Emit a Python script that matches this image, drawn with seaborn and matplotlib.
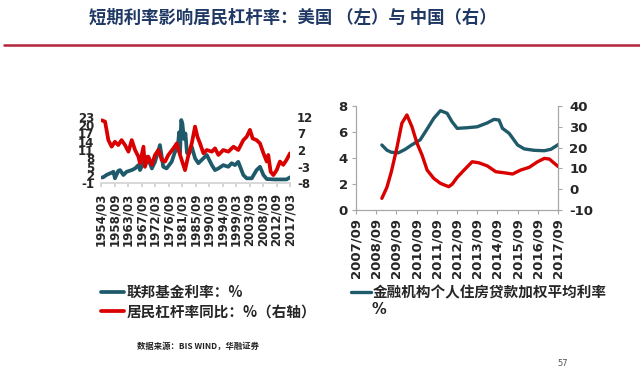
import numpy as np
import pandas as pd
import matplotlib
matplotlib.use('Agg')
import matplotlib.pyplot as plt
from matplotlib.lines import Line2D
import seaborn as sns

###data: US (left chart)
us_fed_year = [1954.5, 1955.0, 1956.2, 1957.25, 1957.9, 1958.4, 1958.9, 1960.0, 1960.6, 1961.7,
               1962.8, 1964.5, 1965.6, 1966.7, 1967.25, 1968.9, 1969.7, 1971.2, 1972.25, 1973.9,
               1975.0, 1976.1, 1977.8, 1978.8, 1979.5, 1980.0, 1980.3, 1980.6, 1981.0, 1981.4,
               1981.9, 1982.4, 1982.9, 1983.5, 1984.5, 1985.6, 1986.7, 1988.4, 1989.5, 1991.2,
               1992.25, 1993.4, 1995.0, 1996.7, 1997.8, 1998.9, 2000.0, 2001.7, 2002.8, 2004.5,
               2006.1, 2007.25, 2008.4, 2009.5, 2012.0, 2014.0, 2016.1, 2017.25]
us_fed_rate = [1.0, 1.1, 2.0, 2.5, 2.8, 3.1, 0.7, 3.4, 3.7, 1.9,
               3.1, 3.7, 4.3, 5.5, 3.7, 7.4, 8.6, 4.3, 6.7, 12.8,
               4.9, 4.3, 6.7, 10.0, 11.5, 14.0, 17.5, 10.0, 21.9, 20.5,
               15.0, 17.0, 10.0, 9.5, 12.2, 8.0, 6.2, 8.0, 9.2, 5.5,
               3.7, 4.3, 5.5, 4.9, 6.2, 5.5, 6.7, 1.9, 0.7, 0.7,
               3.7, 4.9, 1.9, 0.45, 0.3, 0.3, 0.3, 1.07]

us_lev_year = [1954.5, 1955.6, 1956.1, 1956.7, 1957.8, 1958.9, 1960.0, 1961.1, 1962.25, 1963.4,
               1964.5, 1965.6, 1966.7, 1967.25, 1968.4, 1968.9, 1970.0, 1971.2, 1972.25, 1973.4,
               1974.5, 1975.6, 1976.7, 1978.4, 1979.5, 1980.6, 1982.25, 1983.4, 1984.5, 1985.6,
               1986.4, 1987.25, 1988.4, 1989.5, 1991.2, 1992.25, 1993.4, 1995.0, 1996.7, 1998.4,
               2000.0, 2001.7, 2002.8, 2003.9, 2004.8, 2006.1, 2007.25, 2008.4, 2009.5, 2010.0,
               2010.8, 2011.7, 2012.8, 2013.9, 2015.0, 2016.1, 2017.25]
us_lev_yoy = [11.0, 10.6, 8.1, 5.0, 3.0, 4.5, 3.5, 5.0, 3.5, 1.5,
              5.0, 2.0, 0.0, -2.0, 3.0, -3.1, 0.0, -2.5, 0.5, 2.0,
              -1.0, -1.5, 0.5, 2.5, 4.0, 0.5, -4.1, 0.5, 4.0, 9.1,
              6.0, 4.0, 1.0, 2.0, 1.5, 2.5, 0.5, 2.0, 1.5, 3.0,
              2.0, 5.0, 6.0, 8.1, 5.5, 5.0, 4.0, 1.0, -1.5, 0.5,
              -4.6, -5.6, -4.1, -1.5, -2.5, -1.0, 1.0]

###data: China (right chart)
cn_rate_year = [2009.03, 2009.28, 2009.5, 2009.85, 2010.19, 2010.5, 2010.93, 2011.3, 2011.6, 2011.93,
                2012.26, 2012.5, 2012.76, 2013.26, 2013.75, 2014.25, 2014.58, 2014.83, 2015.0, 2015.33,
                2015.75, 2016.08, 2016.57, 2017.07, 2017.4, 2017.78]
cn_mortgage_rate = [5.0, 4.6, 4.44, 4.4, 4.67, 5.0, 5.4, 6.3, 7.05, 7.64,
                    7.44, 6.8, 6.28, 6.33, 6.4, 6.7, 6.97, 6.92, 6.28, 5.9,
                    5.0, 4.7, 4.59, 4.56, 4.67, 5.05]

cn_lev_year = [2009.03, 2009.28, 2009.5, 2009.77, 2010.02, 2010.27, 2010.52, 2010.77, 2011.02, 2011.27,
               2011.6, 2011.93, 2012.34, 2012.51, 2012.76, 2013.1, 2013.5, 2013.83, 2014.25, 2014.67,
               2015.08, 2015.5, 2015.9, 2016.32, 2016.74, 2017.07, 2017.32, 2017.77]
cn_lev_yoy = [-4.4, 0.9, 8.4, 19.7, 31.7, 35.7, 30.0, 22.1, 16.4, 9.2,
              5.2, 2.8, 1.2, 2.4, 5.7, 9.2, 13.2, 12.7, 11.2, 8.4,
              7.9, 7.3, 9.2, 10.5, 13.2, 14.8, 14.5, 10.8]

us_xticks = [1954.25 + 4.5 * k for k in range(15)]
us_xlabels = ['1954/03', '1958/09', '1963/03', '1967/09', '1972/03', '1976/09', '1981/03', '1985/09',
              '1990/03', '1994/09', '1999/03', '2003/09', '2008/03', '2012/09', '2017/03']
cn_xticks = [2007.75 + k for k in range(11)]
cn_xlabels = ['%d/09' % y for y in range(2007, 2018)]

title = '短期利率影响居民杠杆率：美国 （左）与 中国（右）'
us_labels = ['联邦基金利率：%', '居民杠杆率同比：%（右轴）']
cn_label = '金融机构个人住房贷款加权平均利率'
source = '数据来源：BIS WIND，华融证券'

teal = '#1F5A6A'
red = '#DA0000'
cjk = ['Noto Sans CJK SC', 'DejaVu Sans']

sns.set_theme(style='white')
plt.rcParams['font.family'] = ['DejaVu Sans', 'Noto Sans CJK SC']
plt.rcParams['axes.unicode_minus'] = False

fig = plt.figure(figsize=(6.4, 3.75), dpi=100)

###left chart
W, H = 640., 375.
ax1 = fig.add_axes([101 / W, 1 - 183 / H, (290 - 101) / W, (183 - 117) / H])
ax2 = ax1.twinx()
sns.lineplot(x=us_fed_year, y=us_fed_rate, ax=ax1, color=teal, lw=2.7, label=us_labels[0], legend=False)
sns.lineplot(x=us_lev_year, y=us_lev_yoy, ax=ax2, color=red, lw=2.7, label=us_labels[1], legend=False)
ax1.set_xlim(1954.25, 2017.25)
ax1.set_ylim(-1, 23)
ax2.set_ylim(-8, 12)
ax1.set_yticks(np.arange(-1, 24, 3))
ax2.set_yticks(np.arange(-8, 13, 5))
ax1.set_xticks(us_xticks)
ax1.set_xticklabels(us_xlabels, rotation=90)
for a in (ax1, ax2):
    for s in ('top', 'left', 'right'):
        a.spines[s].set_visible(False)
    a.spines['bottom'].set_color('#D9D9D9')
    a.tick_params(axis='y', length=0, pad=5, labelsize=8.5)
    for t in a.get_yticklabels():
        t.set_fontweight('bold')
ax1.tick_params(axis='x', length=3, color='#D0D0D0', bottom=True, pad=4, labelsize=8.5)
for t in ax1.get_xticklabels():
    t.set_fontweight('bold')
ax1.set_xlabel('')

###right chart
ax3 = fig.add_axes([356 / W, 1 - 210 / H, (558 - 356) / W, (210 - 106) / H])
ax4 = ax3.twinx()
sns.lineplot(x=cn_rate_year, y=cn_mortgage_rate, ax=ax3, color=teal, lw=2.4, label=cn_label, legend=False)
sns.lineplot(x=cn_lev_year, y=cn_lev_yoy, ax=ax4, color=red, lw=2.4, legend=False)
ax3.set_xlim(2007.75, 2017.75)
ax3.set_ylim(0, 8)
ax4.set_ylim(-10, 40)
ax3.set_yticks(np.arange(0, 9, 2))
ax4.set_yticks(np.arange(-10, 41, 10))
ax3.set_xticks(cn_xticks)
ax3.set_xticklabels(cn_xlabels, rotation=90)
for a in (ax3, ax4):
    a.spines['top'].set_visible(False)
    for s in ('left', 'right', 'bottom'):
        a.spines[s].set_color('#A6A6A6')
        a.spines[s].set_linewidth(0.8)
ax3.tick_params(axis='both', direction='out', length=3, color='#A6A6A6', width=0.8,
                bottom=True, left=True, labelsize=9.5, pad=3)
ax4.tick_params(axis='y', direction='out', length=3, color='#A6A6A6', width=0.8,
                right=True, labelsize=9.5, pad=5)
for t in ax3.get_xticklabels() + ax3.get_yticklabels() + ax4.get_yticklabels():
    t.set_fontweight('bold')

###legends
leg_font = dict(family=cjk, size=10.5, weight='bold')
fig.legend([ax1.lines[0], ax2.lines[0]], us_labels, loc='upper left',
           bbox_to_anchor=(101 / W, 1 - 284 / H), bbox_transform=fig.transFigure,
           frameon=False, prop=leg_font, borderpad=0, borderaxespad=0,
           handlelength=1.6, handletextpad=0.15, labelspacing=0.22)
fig.legend([ax3.lines[0]], [cn_label], loc='upper left',
           bbox_to_anchor=(351 / W, 1 - 284 / H), bbox_transform=fig.transFigure,
           frameon=False, prop=leg_font, borderpad=0, borderaxespad=0,
           handlelength=1.4, handletextpad=0.1)
fig.text(372 / W, 1 - 310 / H, '%', ha='left', va='center', fontsize=10.5, fontweight='bold')

###title, rule, footer
fig.text(89 / W, 1 - 18 / H, title, ha='left', va='center', fontsize=12.5,
         fontweight='bold', color='#1F3864', family=cjk)
fig.add_artist(Line2D([4 / W, 1.0], [1 - 45 / H, 1 - 45 / H], color='#B2243A', lw=1.8))
fig.text(137 / W, 1 - 346 / H, source, ha='left', va='center', fontsize=6,
         fontweight='bold', color='#222222', family=cjk)
fig.text(557 / W, 1 - 364 / H, '57', ha='left', va='center', fontsize=6, color='#555555')

fig.savefig('out.png', dpi=100)
